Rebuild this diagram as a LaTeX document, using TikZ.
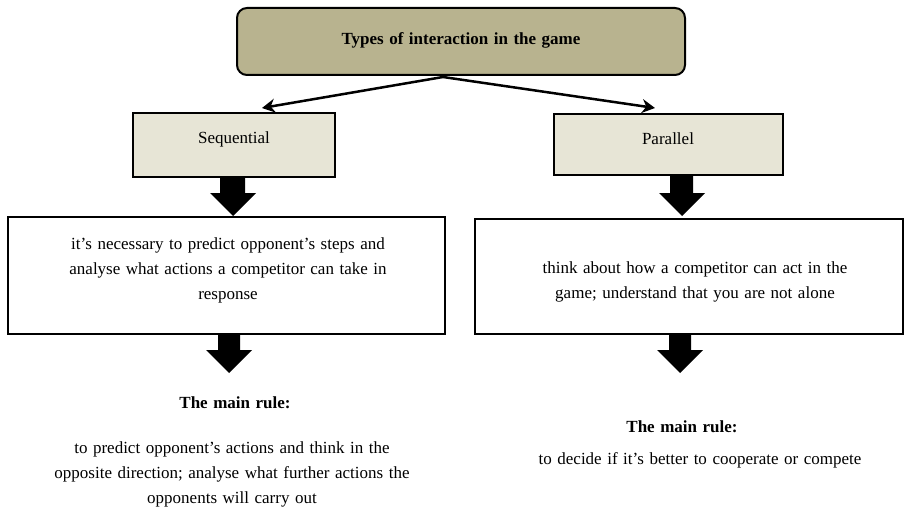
\documentclass[tikz,border=0pt]{standalone}
\usepackage{fontspec}
\setmainfont{Liberation Serif}[WordSpace=1.3]
\usetikzlibrary{arrows.meta}
\definecolor{topfill}{HTML}{B8B38F}
\definecolor{subfill}{HTML}{E7E5D6}
\tikzset{
  box/.style={draw=black, line width=2pt, inner sep=0pt},
  titlebox/.style={box, rounded corners=10pt, fill=topfill},
  typebox/.style={box, fill=subfill},
  textbox/.style={box, fill=white},
  txt/.style={font=\fontsize{17}{25}\selectfont, align=center},
  boldtxt/.style={txt, font=\fontsize{17}{25}\selectfont\bfseries},
  conn/.style={line width=2.5pt, -{Stealth[length=13pt,width=14pt]}},
  blockarrow/.style={fill=black, draw=none},
}
\begin{document}
\begin{tikzpicture}[x=1pt, y=-1pt]
\useasboundingbox (0,0) rectangle (905,516);

% title
\draw[titlebox] (237,8) rectangle (685,75);
\node[boldtxt] (title) at (461,40) {Types of interaction in the game};
\coordinate (split) at (443,77);

% two kinds of interaction
\draw[typebox] (133,113) rectangle (335,177);
\node[txt] (seq) at (234,139) {Sequential};
\draw[typebox] (554,114) rectangle (783,175);
\node[txt] (par) at (668,139) {Parallel};
\coordinate (seqtop) at (262,108);
\coordinate (partop) at (655,108);
\draw[conn] (split) -- (seqtop);
\draw[conn] (split) -- (partop);

% descriptions
\draw[textbox] (8,217) rectangle (445,334);
\node[txt] (seqdesc) at (228,270) {it's necessary to predict opponent's steps and\\analyse what actions a competitor can take in\\response};
\draw[textbox] (475,219) rectangle (903,334);
\node[txt] (pardesc) at (695,282) {think about how a competitor can act in the\\game; understand that you are not alone};

% block arrows
\fill[blockarrow] (220,177) -- (245,177) -- (245,193) -- (256,193) -- (233,216) -- (210,193) -- (220,193) -- cycle;
\fill[blockarrow] (670,176) -- (693,176) -- (693,193) -- (705,193) -- (682,216) -- (659,193) -- (670,193) -- cycle;
\fill[blockarrow] (218,334) -- (240,334) -- (240,350) -- (252,350) -- (229,373) -- (206,350) -- (218,350) -- cycle;
\fill[blockarrow] (669,334) -- (691,334) -- (691,350) -- (703,350) -- (680,373) -- (657,350) -- (669,350) -- cycle;

% main rules
\node[boldtxt] (seqrule) at (235,403) {The main rule:};
\node[txt] (seqruletext) at (232,474) {to predict opponent's actions and think in the\\opposite direction; analyse what further actions the\\opponents will carry out};
\node[boldtxt] (parrule) at (682,427) {The main rule:};
\node[txt] (parruletext) at (700,460) {to decide if it's better to cooperate or compete};
\end{tikzpicture}
\end{document}
